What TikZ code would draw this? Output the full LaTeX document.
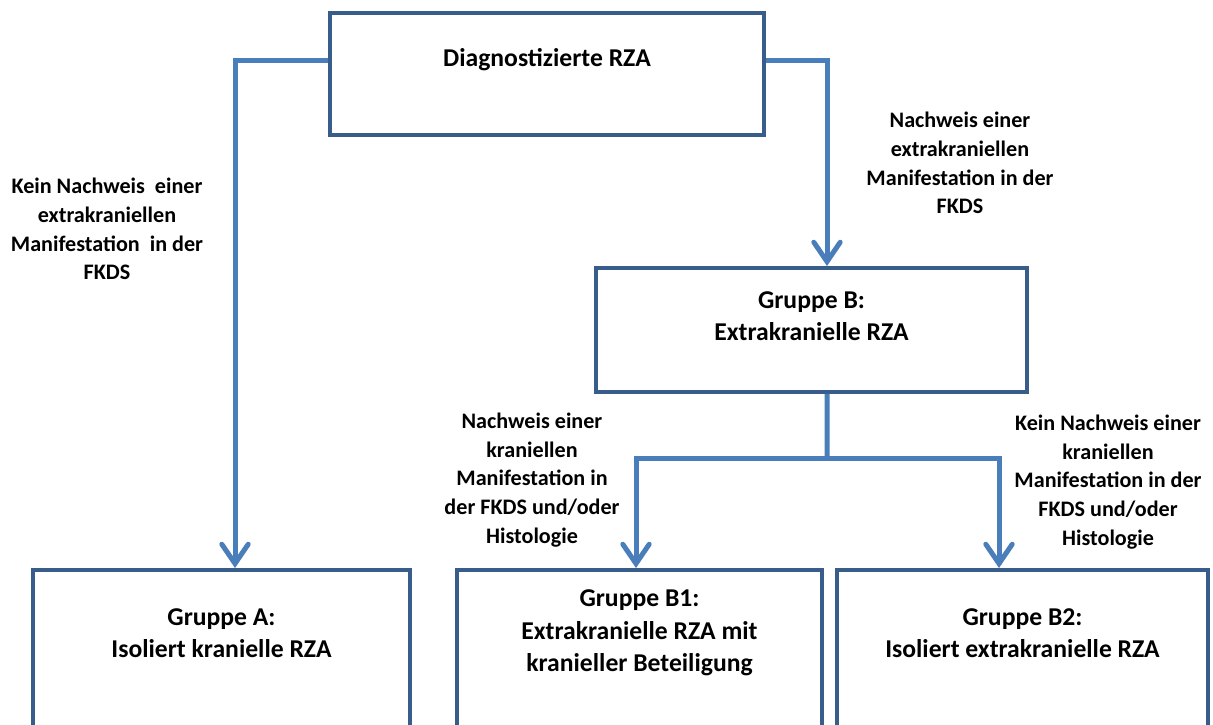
\documentclass[tikz,border=0pt]{standalone}
\usepackage{fontspec}
\setmainfont{Carlito}
\usetikzlibrary{arrows.meta}
\definecolor{boxblue}{RGB}{56,93,138}
\definecolor{linkblue}{RGB}{74,126,187}

\begin{document}
\begin{tikzpicture}[x=0.02cm,y=-0.02cm,
    box/.style={draw=boxblue,line width=0.08cm,fill=white},
    boxtext/.style={align=center,font=\fontsize{14.6}{18.5}\selectfont\bfseries},
    cond/.style={align=center,font=\fontsize{12.6}{16.4}\selectfont\bfseries},
    link/.style={draw=linkblue,line width=0.1cm},
    arr/.style={link,-{Straight Barb[length=11pt,width=15pt,line cap=round]}}]
    \useasboundingbox (0,0) rectangle (1213,724);
    \clip (0,0) rectangle (1213,724);
    \node[box,minimum width=8.68cm,minimum height=2.44cm] (diag) at (547,74) {};
    \node[box,minimum width=8.62cm,minimum height=2.48cm] (gb) at (811.5,330) {};
    \node[box,minimum width=7.54cm,minimum height=4cm] (ga) at (221.5,670) {};
    \node[box,minimum width=7.3cm,minimum height=4cm] (gb1) at (639.5,670) {};
    \node[box,minimum width=7.42cm,minimum height=4cm] (gb2) at (1022.5,670) {};
    \node[boxtext] (diagT) at (547,60) {Diagnostizierte RZA};
    \node[boxtext] (gbT) at (811.5,316) {Gruppe B:\\Extrakranielle RZA};
    \node[boxtext] (gaT) at (221.5,633) {Gruppe A:\\Isoliert kranielle RZA};
    \node[boxtext] (gb1T) at (639.5,633) {Gruppe B1:\\Extrakranielle RZA mit\\kranieller Beteiligung};
    \node[boxtext] (gb2T) at (1022.5,633) {Gruppe B2:\\Isoliert extrakranielle RZA};
    \node[cond] (noExtra) at (107,229) {Kein Nachweis\ \ einer\\extrakraniellen\\Manifestation\ \ in der\\FKDS};
    \node[cond] (extra) at (960,163) {Nachweis einer\\extrakraniellen\\Manifestation in der\\FKDS};
    \node[cond] (kran) at (532,480) {Nachweis einer\\kraniellen\\Manifestation in\\der FKDS und/oder\\Histologie};
    \node[cond] (noKran) at (1108,482) {Kein Nachweis einer\\kraniellen\\Manifestation in der\\FKDS und/oder\\Histologie};
    \coordinate (fork) at (827,458);
    \draw[arr] (diag.west |- diagT) -| ([xshift=0.27cm]ga.north);
    \draw[arr] (diag.east |- diagT) -| ([xshift=0.31cm]gb.north);
    \draw[link] ([xshift=0.31cm]gb.south) -- (fork);
    \draw[arr] (fork) -| ([xshift=-0.07cm]gb1.north);
    \draw[arr] (fork) -| ([xshift=-0.47cm]gb2.north);
\end{tikzpicture}
\end{document}
